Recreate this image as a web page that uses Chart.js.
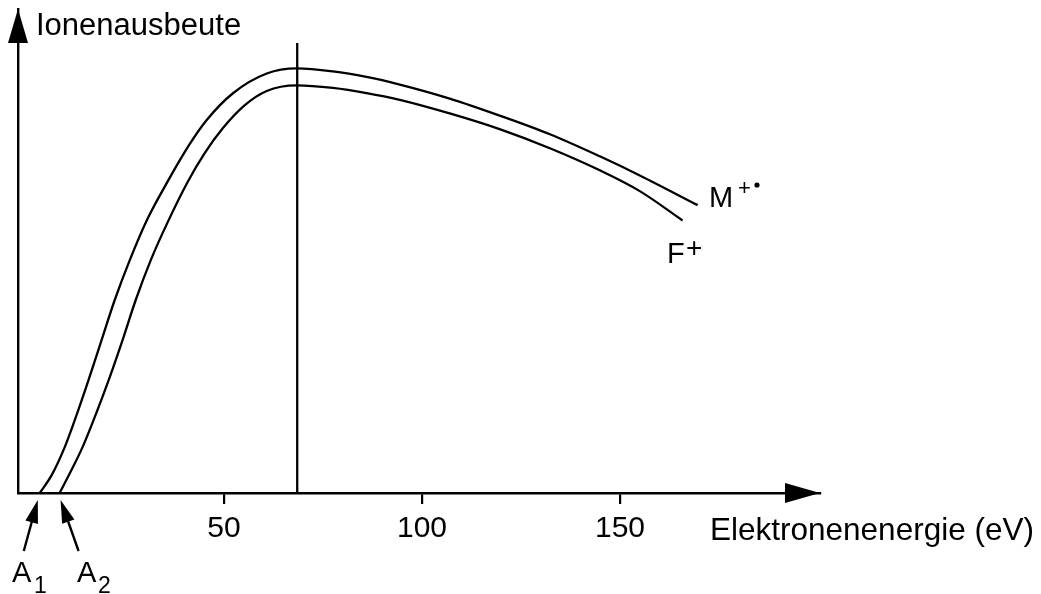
<!DOCTYPE html>
<html>
<head>
<meta charset="utf-8">
<script src="https://cdn.jsdelivr.net/npm/chart.js@4"></script>
<style>
  body { margin: 0; background: #fff; }
  #wrap { width: 1041px; height: 594px; position: relative; }
</style>
</head>
<body>
<div id="wrap"><canvas id="chart"></canvas></div>
<script>
// Elektronenenergie (eV) / Ionenausbeute (relativ, Maximum M+. = 100)
let energyM = [3.5, 6.5, 9.8, 12.8, 15.8, 19.1, 22.4, 26.2, 30.5, 35.8, 41.3, 45.6, 52.2, 60.8, 68.4, 77.5, 86.0, 94.4, 107.0, 119.6, 132.3, 144.9, 155.0, 169.6];
let yieldM  = [0, 4.2, 10.8, 18.4, 26.6, 36.0, 45.4, 54.8, 64.2, 73.4, 82.1, 87.8, 94.1, 98.8, 100, 99.3, 98.0, 96.2, 92.9, 88.9, 84.5, 79.3, 74.8, 67.8];
let energyF = [8.5, 11.5, 14.3, 17.6, 21.1, 24.4, 27.7, 31.5, 35.8, 40.8, 45.1, 49.7, 55.2, 60.8, 68.4, 77.5, 86.0, 94.4, 107.0, 119.6, 132.3, 144.9, 155.0, 165.8];
let yieldF  = [0, 5.4, 10.8, 18.4, 27.1, 36.0, 45.4, 54.8, 63.8, 73.2, 80.0, 85.9, 91.3, 94.7, 96.0, 95.4, 94.2, 92.6, 89.4, 85.7, 81.2, 76.0, 71.1, 64.2];
let tickValues = [50, 100, 150];
let markerEnergy = 68.5;
let markerTop = 106;

const FONT = '"Liberation Sans", Helvetica, Arial, sans-serif';

function toPoints(xs, ys) {
  return xs.map((x, i) => ({ x: x, y: ys[i] }));
}

function drawText(ctx, str, x, y, size) {
  ctx.font = size + 'px ' + FONT;
  ctx.textBaseline = 'alphabetic';
  ctx.textAlign = 'left';
  ctx.fillText(str, x, y);
}

function arrowHead(ctx, tx, ty, fx, fy, len, half) {
  let dx = tx - fx, dy = ty - fy;
  let d = Math.sqrt(dx * dx + dy * dy);
  let ux = dx / d, uy = dy / d;
  let bx = tx - ux * len, by = ty - uy * len;
  ctx.beginPath();
  ctx.moveTo(tx, ty);
  ctx.lineTo(bx - uy * half, by + ux * half);
  ctx.lineTo(bx + uy * half, by - ux * half);
  ctx.closePath();
  ctx.fill();
}

const decorations = {
  id: 'decorations',
  afterDraw(chart) {
    let ctx = chart.ctx;
    let a = chart.chartArea;
    let xs = chart.scales.x;
    ctx.save();
    ctx.fillStyle = '#000';
    ctx.strokeStyle = '#000';

    // axis arrows
    arrowHead(ctx, a.left, a.top, a.left, a.top + 50, 34, 10);
    arrowHead(ctx, a.right, a.bottom, a.right - 50, a.bottom, 35, 10);

    // A1 / A2 pointers
    let p1 = xs.getPixelForValue(energyM[0]) - 2;
    let p2 = xs.getPixelForValue(energyF[0]) + 1;
    ctx.lineWidth = 2.4;
    [[p1, p1 - 14], [p2, p2 + 18]].forEach(([tx, fx]) => {
      let ty = a.bottom + 7, fy = a.bottom + 58;
      ctx.beginPath();
      ctx.moveTo(fx, fy);
      ctx.lineTo(tx + (fx - tx) * 0.3, ty + (fy - ty) * 0.3);
      ctx.stroke();
      arrowHead(ctx, tx, ty, fx, fy, 23, 6.5);
    });

    // texts
    drawText(ctx, 'Ionenausbeute', a.left + 18, 35, 31);
    drawText(ctx, 'Elektronenenergie (eV)', 710, 540, 31.5);
    drawText(ctx, 'M', 709, 207, 29);
    drawText(ctx, '+', 738, 195, 22);
    ctx.beginPath();
    ctx.arc(757, 185, 2.6, 0, Math.PI * 2);
    ctx.fill();
    drawText(ctx, 'F', 667, 263, 29);
    drawText(ctx, '+', 686, 257, 28);
    drawText(ctx, 'A', 12, 582, 29);
    drawText(ctx, '1', 34, 593, 23);
    drawText(ctx, 'A', 77, 582, 29);
    drawText(ctx, '2', 98, 593, 23);
    ctx.restore();
  }
};

let lineStyle = {
  borderColor: '#000',
  borderWidth: 2.3,
  pointRadius: 0,
  showLine: true,
  fill: false,
  cubicInterpolationMode: 'monotone'
};

new Chart(document.getElementById('chart'), {
  type: 'scatter',
  data: {
    datasets: [
      Object.assign({ label: 'M+', data: toPoints(energyM, yieldM) }, lineStyle),
      Object.assign({ label: 'F+', data: toPoints(energyF, yieldF) }, lineStyle),
      Object.assign({ label: '70 eV', data: [{ x: markerEnergy, y: 0 }, { x: markerEnergy, y: markerTop }] }, lineStyle, { cubicInterpolationMode: 'default', tension: 0 })
    ]
  },
  options: {
    responsive: true,
    maintainAspectRatio: false,
    animation: false,
    events: [],
    layout: { padding: { left: 18, top: 9, right: 221, bottom: 0 } },
    plugins: { legend: { display: false }, tooltip: { enabled: false } },
    scales: {
      x: {
        type: 'linear',
        min: -2,
        max: 200.5,
        afterFit: s => { s.height = 101; },
        afterBuildTicks: s => { s.ticks = tickValues.map(v => ({ value: v })); },
        border: { display: true, color: '#000', width: 2.4 },
        grid: { drawOnChartArea: false, drawTicks: true, tickLength: 11, color: '#000', lineWidth: 2.2 },
        ticks: { color: '#000', padding: 7, maxRotation: 0, font: { family: FONT, size: 30 } }
      },
      y: {
        type: 'linear',
        min: 0,
        max: 114,
        afterFit: s => { s.width = 0; },
        border: { display: true, color: '#000', width: 2.4 },
        grid: { drawOnChartArea: false, drawTicks: false },
        ticks: { display: false }
      }
    }
  },
  plugins: [decorations]
});
</script>
</body>
</html>
